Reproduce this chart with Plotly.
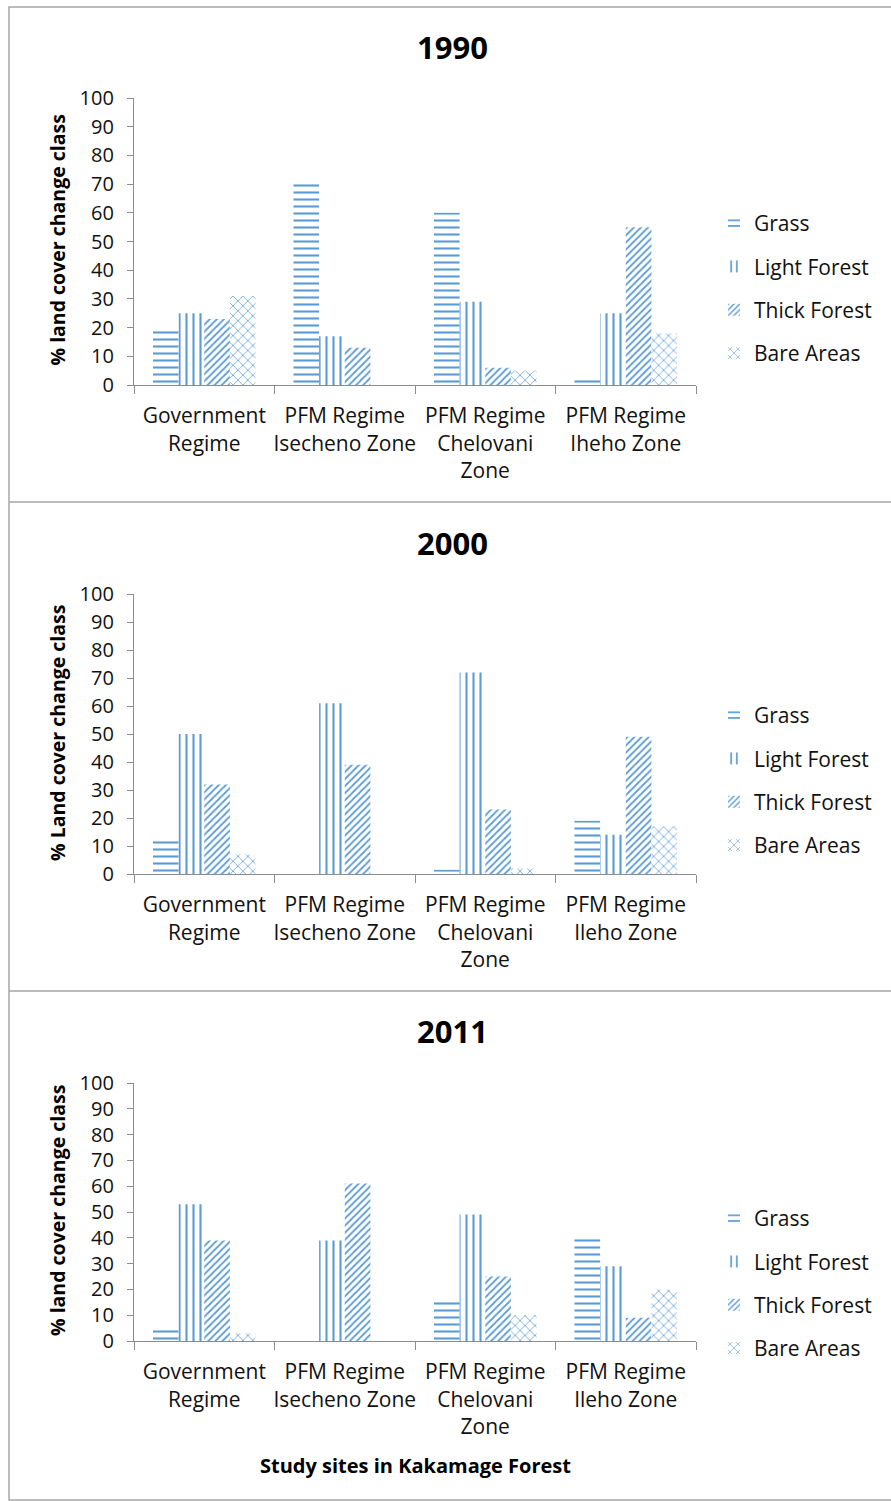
import plotly.graph_objects as go

years = ["1990", "2000", "2011"]
series = ["Grass", "Light Forest", "Thick Forest", "Bare Areas"]
cats_1990 = ["Government<br>Regime", "PFM Regime<br>Isecheno Zone", "PFM Regime<br>Chelovani<br>Zone", "PFM Regime<br>Iheho Zone"]
cats_2000 = ["Government<br>Regime", "PFM Regime<br>Isecheno Zone", "PFM Regime<br>Chelovani<br>Zone", "PFM Regime<br>Ileho Zone"]
cats_2011 = ["Government<br>Regime", "PFM Regime<br>Isecheno Zone", "PFM Regime<br>Chelovani<br>Zone", "PFM Regime<br>Ileho Zone"]

grass_1990 = [20, 70, 60, 2]
light_1990 = [25, 17, 29, 25]
thick_1990 = [23, 13, 6, 55]
bare_1990 = [31, 0, 5, 18]

grass_2000 = [12, 0, 1.5, 19]
light_2000 = [50, 61, 72, 14]
thick_2000 = [32, 39, 23, 49]
bare_2000 = [7, 0, 2, 17]

grass_2011 = [5, 0, 16, 41]
light_2011 = [53, 39, 49, 29]
thick_2011 = [39, 61, 25, 9]
bare_2011 = [3, 0, 10, 20]

ytitles = ["% land cover change class", "% Land cover change class", "% land cover change class"]
xtitle = "Study sites in Kakamage Forest"

data = [
    (cats_1990, [grass_1990, light_1990, thick_1990, bare_1990]),
    (cats_2000, [grass_2000, light_2000, thick_2000, bare_2000]),
    (cats_2011, [grass_2011, light_2011, thick_2011, bare_2011]),
]

BLUE = "#5B9BD5"
FONT = "Open Sans"
W, H = 891, 1501
patterns = [dict(shape="-", size=7, solidity=0.3),
            dict(shape="|", size=7, solidity=0.3),
            dict(shape="/", size=5, solidity=0.35),
            dict(shape="x", size=7, solidity=0.2)]

# pixel layout of each panel: (plot top, plot bottom, title y, legend first y)
panels = [(98, 385, 47, 223), (594, 874, 543, 715), (1083, 1341, 1031, 1218)]
xl, xr = 134, 696

def py(p):
    return 1 - p / H

fig = go.Figure()
annotations = []
layout = {}
for i, ((cats, vals), (top, bot, ty, ly)) in enumerate(zip(data, panels)):
    n = "" if i == 0 else str(i + 1)
    lg = "legend" + n
    for j, (s, v) in enumerate(zip(series, vals)):
        fig.add_trace(go.Bar(
            x=cats, y=v, name=s, xaxis="x" + n, yaxis="y" + n,
            legend=lg, legendgroup=f"{s}{i}",
            marker=dict(color="white", line=dict(width=0),
                        pattern=dict(fgcolor=BLUE, bgcolor="white", fillmode="replace", **patterns[j])),
        ))
    layout["xaxis" + n] = dict(domain=[xl / W, xr / W], anchor="y" + n,
                               showline=True, linecolor="#8c8c8c", linewidth=1.3,
                               ticks="outside", tickson="boundaries", ticklen=8, tickcolor="#8c8c8c",
                               tickangle=0, ticklabelstandoff=12,
                               tickfont=dict(family=FONT, size=21, color="#111"), automargin=False,
                               fixedrange=True)
    layout["yaxis" + n] = dict(domain=[py(bot), py(top)], anchor="x" + n, range=[0, 100],
                               dtick=10, showgrid=False, zeroline=False,
                               showline=True, linecolor="#8c8c8c", linewidth=1.3,
                               ticks="outside", ticklen=6, tickcolor="#8c8c8c",
                               ticklabelstandoff=9,
                               tickfont=dict(family=FONT, size=20, color="#111"), automargin=False)
    layout[lg] = dict(x=714 / W, y=py(ly - 20), xanchor="left", yanchor="top",
                      font=dict(family=FONT, size=21, color="#111"),
                      tracegroupgap=13, bgcolor="rgba(0,0,0,0)", itemwidth=30)
    annotations.append(dict(text=f"<b>{years[i]}</b>", x=452 / W, y=py(ty), xref="paper", yref="paper",
                            showarrow=False, font=dict(family=FONT, size=31, color="black"),
                            xanchor="center", yanchor="middle"))
    annotations.append(dict(text=f"<b>{ytitles[i]}</b>", x=57 / W, y=py((top + bot) / 2 - 1),
                            xref="paper", yref="paper", textangle=-90, showarrow=False,
                            font=dict(family=FONT, size=19.5, color="black"),
                            xanchor="center", yanchor="middle"))

annotations.append(dict(text=f"<b>{xtitle}</b>", x=415 / W, y=py(1465), xref="paper", yref="paper",
                        showarrow=False, font=dict(family=FONT, size=20, color="black"),
                        xanchor="center", yanchor="middle"))

shapes = [
    dict(type="rect", xref="paper", yref="paper", x0=9 / W, x1=1.02, y0=py(1500), y1=py(7),
         line=dict(color="#a6a6a6", width=1.5)),
    dict(type="line", xref="paper", yref="paper", x0=9 / W, x1=1.02, y0=py(502), y1=py(502),
         line=dict(color="#a6a6a6", width=1.5)),
    dict(type="line", xref="paper", yref="paper", x0=9 / W, x1=1.02, y0=py(991), y1=py(991),
         line=dict(color="#a6a6a6", width=1.5)),
]

fig.update_layout(
    width=W, height=H, margin=dict(l=0, r=0, t=0, b=0),
    paper_bgcolor="white", plot_bgcolor="white",
    barmode="group", bargap=0.27, bargroupgap=0,
    annotations=annotations, shapes=shapes,
    **layout,
)
fig.write_html("out.html", config={"displayModeBar": False},
               post_script="document.body.style.margin='0';")
